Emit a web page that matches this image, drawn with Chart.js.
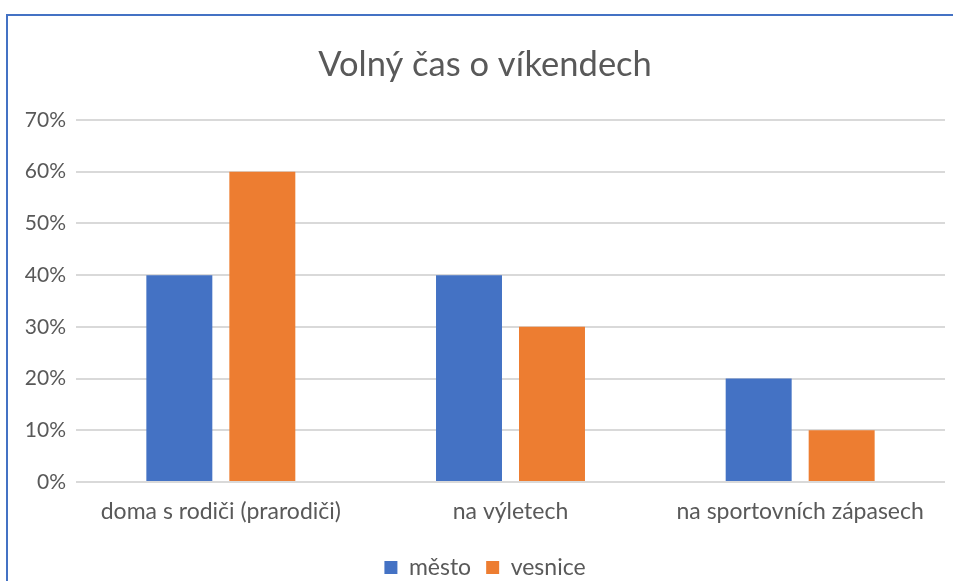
<!DOCTYPE html>
<html>
<head>
<meta charset="utf-8">
<script src="https://cdn.jsdelivr.net/npm/chart.js@4"></script>
<style>
  body { margin: 0; background: #fff; }
  .wrap { position: relative; width: 953px; height: 581px; overflow: hidden; }
  .frame { position: absolute; left: 6px; top: 14px; width: 960px; height: 600px;
           border-left: 2px solid #4472C4; border-top: 2px solid #4472C4; box-sizing: border-box; }
  canvas { position: absolute; left: 0; top: 0; }
</style>
</head>
<body>
<div class="wrap">
  <canvas id="graf" width="970" height="581"></canvas>
  <div class="frame"></div>
</div>
<script>
var kategorie = ['doma s rodiči (prarodiči)', 'na výletech', 'na sportovních zápasech'];
var mesto   = [0.40, 0.40, 0.20];
var vesnice = [0.60, 0.30, 0.10];
var nadpis  = 'Volný čas o víkendech';

var sedy = '#595959';

// graf je v originale oriznuty vpravo, proto sirsi canvas
var myChart = new Chart(document.getElementById('graf'), {
    type: 'bar',
    data: {
        labels: kategorie,
        datasets: [{
            label: 'město',
            backgroundColor: '#4472C4',
            data: mesto
        }, {
            label: 'vesnice',
            backgroundColor: '#ED7D31',
            data: vesnice
        }]
    },
    options: {
        responsive: false,
        animation: false,
        categoryPercentage: 0.573,
        barPercentage: 0.795,
        layout: { padding: { left: 8, right: 8, top: 0, bottom: -8 } },
        plugins: {
            title: {
                display: true,
                text: nadpis,
                color: sedy,
                font: { family: 'Lato', size: 34.5, weight: 'normal' },
                padding: { top: 44, bottom: 34.6 }
            },
            legend: {
                position: 'bottom',
                labels: {
                    color: sedy,
                    font: { family: 'Lato', size: 23 },
                    boxWidth: 13,
                    boxHeight: 13,
                    padding: 15
                }
            },
            tooltip: { enabled: false }
        },
        scales: {
            x: {
                grid: { display: false },
                border: { display: false },
                afterFit: function (axis) { axis.height = 59; },
                ticks: {
                    color: sedy,
                    font: { family: 'Lato', size: 23 },
                    padding: 8,
                    maxRotation: 0
                }
            },
            y: {
                min: 0,
                max: 0.7,
                border: { display: false },
                grid: { color: '#D9D9D9', lineWidth: 2, drawTicks: false },
                afterFit: function (axis) { axis.width = 68; },
                ticks: {
                    stepSize: 0.1,
                    color: sedy,
                    padding: 10,
                    font: { family: 'Lato', size: 21 },
                    callback: function (v) { return Math.round(v * 100) + '%'; }
                }
            },
            // prazdna osa vpravo, jen aby plocha grafu koncila na 945
            y2: {
                position: 'right',
                grid: { display: false },
                border: { display: false },
                ticks: { display: false },
                afterFit: function (axis) { axis.width = 17; }
            }
        }
    }
});
</script>
</body>
</html>
